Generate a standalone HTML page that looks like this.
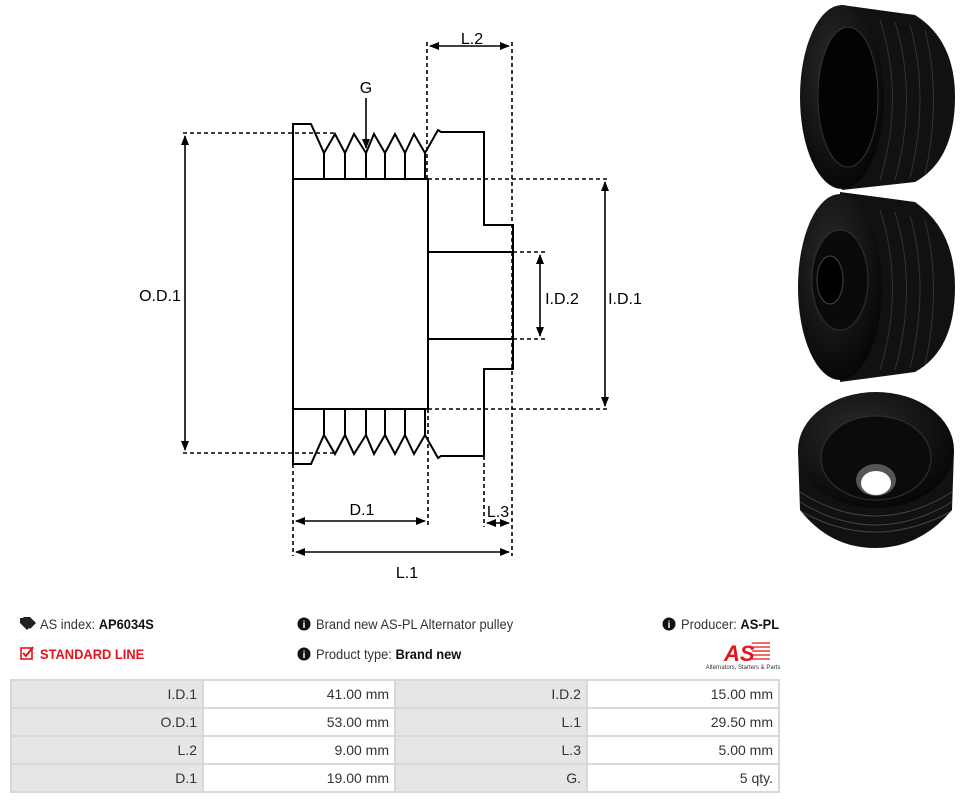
<!DOCTYPE html>
<html><head><meta charset="utf-8"><style>
body{margin:0;width:962px;height:802px;background:#fff;overflow:hidden;font-family:"Liberation Sans",sans-serif;}
svg{position:absolute;left:0;top:0}
.t{position:absolute;font-size:14px;color:#333;white-space:nowrap;transform:scaleX(0.92);transform-origin:left}
table{position:absolute;left:10px;top:679px;border-collapse:collapse;width:770px}
td{height:26px;border:2px solid #d8d8d8;font-size:14px;color:#333;text-align:right;padding:0 5px;width:181px}
td.g{background:#e6e6e6}
</style></head><body>
<svg width="962" height="802" font-family="Liberation Sans, sans-serif" font-size="17" fill="#000">
<defs>
<marker id="a" markerWidth="10" markerHeight="10" refX="9" refY="5" orient="auto-start-reverse" markerUnits="userSpaceOnUse"><path d="M0,1 L10,5 L0,9 z" fill="#000"/></marker>
<radialGradient id="bk" cx="0.4" cy="0.35" r="0.7"><stop offset="0" stop-color="#2a2a2a"/><stop offset="1" stop-color="#050505"/></radialGradient>
</defs>
<g stroke="#000" stroke-width="2" fill="none">
<path d="M293,464 L293,124 L311,124 L324,153 L335,134 L345,153 L354,134 L366,153 L374,134 L385,153 L395,134 L405,153 L414,134 L425,153 L438,130 L441,132 L484,132 L484,225 L513,225 L513,369 L484,369 L484,456 L441,456 L438,458 L425,435 L414,454 L405,435 L395,454 L385,435 L374,454 L366,435 L354,454 L345,435 L335,454 L324,435 L311,464 Z"/>
<rect x="293" y="179" width="135" height="230"/>
<path d="M324,153V179M345,153V179M366,153V179M385,153V179M405,153V179M425,153V179"/>
<path d="M324,435V409M345,435V409M366,435V409M385,435V409M405,435V409M425,435V409"/>
<path d="M428,252H513M428,339H513M428,179V409"/>
</g>
<g stroke="#000" stroke-width="1.6" fill="none" stroke-dasharray="4,3">
<path d="M183,133H335M183,453H335"/>
<path d="M428,179H608M428,409H608"/>
<path d="M513,252H545M513,339H545"/>
<path d="M427,42V179M512,42V556"/>
<path d="M293,464V556M428,409V525M484,456V527"/>
</g>
<g stroke="#000" stroke-width="1.6" fill="none">
<path d="M185,136V450" marker-start="url(#a)" marker-end="url(#a)"/>
<path d="M605,182V406" marker-start="url(#a)" marker-end="url(#a)"/>
<path d="M540,255V336" marker-start="url(#a)" marker-end="url(#a)"/>
<path d="M430,46H509" marker-start="url(#a)" marker-end="url(#a)"/>
<path d="M296,521H425" marker-start="url(#a)" marker-end="url(#a)"/>
<path d="M487,523H509" marker-start="url(#a)" marker-end="url(#a)"/>
<path d="M296,552H509" marker-start="url(#a)" marker-end="url(#a)"/>
<path d="M366,78V148" marker-end="url(#a)" style="display:none"/>
<path d="M366,98V148" marker-end="url(#a)"/>
</g>
<g text-anchor="middle" font-size="16">
<text x="160" y="301">O.D.1</text>
<text x="625" y="304">I.D.1</text>
<text x="562" y="304">I.D.2</text>
<text x="472" y="44">L.2</text>
<text x="362" y="515">D.1</text>
<text x="498" y="517">L.3</text>
<text x="407" y="578">L.1</text>
<text x="366" y="93">G</text>
</g>
<g>
<path d="M842,5 L915,15 Q955,40 955,97 Q955,160 915,182 L842,190 Z" fill="#111"/>
<ellipse cx="842" cy="97" rx="42" ry="92" fill="url(#bk)"/>
<ellipse cx="848" cy="97" rx="30" ry="70" fill="#030303" stroke="#333"/>
<path d="M880,20 Q905,97 880,180 M895,22 Q918,97 895,180 M910,25 Q930,97 910,178 M925,30 Q942,97 925,175" stroke="#333" fill="none"/>
<path d="M840,192 L915,202 Q955,230 955,287 Q955,350 915,372 L840,382 Z" fill="#111"/>
<ellipse cx="840" cy="287" rx="42" ry="93" fill="url(#bk)"/>
<ellipse cx="840" cy="280" rx="28" ry="50" fill="#0a0a0a" stroke="#333"/>
<ellipse cx="830" cy="280" rx="13" ry="24" fill="#000" stroke="#444"/>
<path d="M880,210 Q905,287 880,370 M895,212 Q918,287 895,370 M910,215 Q930,287 910,368 M925,220 Q942,287 925,365" stroke="#333" fill="none"/>
<path d="M798,450 L800,510 Q830,548 875,548 Q920,548 952,510 L954,450 Z" fill="#111"/>
<path d="M800,492 Q875,540 952,492 M800,502 Q875,548 952,502 M802,512 Q875,552 950,512" stroke="#444" fill="none"/>
<ellipse cx="876" cy="450" rx="78" ry="58" fill="url(#bk)"/>
<ellipse cx="876" cy="458" rx="55" ry="42" fill="#0b0b0b" stroke="#333"/>
<ellipse cx="876" cy="480" rx="20" ry="16" fill="#555"/>
<ellipse cx="876" cy="483" rx="15" ry="12" fill="#fff"/>
</g>
<path d="M20,618 L27,618 L33,624 L27,630 L20,623 Z M23,617 L30,617 L36,623 L30,629" fill="#222"/>
<rect x="21" y="648" width="11" height="11" fill="none" stroke="#e4141b" stroke-width="1.6"/>
<path d="M23,653 L26,656 L33,647" stroke="#e4141b" stroke-width="2" fill="none"/>
<g fill="#111"><circle cx="304" cy="624" r="6.5"/><circle cx="304" cy="654" r="6.5"/><circle cx="669" cy="624" r="6.5"/></g>
<g fill="#fff" font-size="10" font-weight="bold" text-anchor="middle"><text x="304" y="628">i</text><text x="304" y="658">i</text><text x="669" y="628">i</text></g>
<text x="724" y="661" font-size="22" font-weight="bold" font-style="italic" fill="#e4141b">AS</text>
<g stroke="#e4141b" stroke-width="1.3"><path d="M752,643H770M752,647H770M752,651H770M752,655H770M752,659H770"/></g>
<text x="743" y="669" font-size="6" fill="#333" text-anchor="middle">Alternators, Starters &amp; Parts</text>
</svg>
<div class="t" style="left:40px;top:616px">AS index: <b style="color:#111">AP6034S</b></div>
<div class="t" style="left:40px;top:646px;color:#e4141b;font-weight:bold">STANDARD LINE</div>
<div class="t" style="left:316px;top:616px">Brand new AS-PL Alternator pulley</div>
<div class="t" style="left:316px;top:646px">Product type: <b style="color:#111">Brand new</b></div>
<div class="t" style="left:681px;top:616px">Producer: <b style="color:#111">AS-PL</b></div>
<table>
<tr><td class="g">I.D.1</td><td>41.00 mm</td><td class="g">I.D.2</td><td>15.00 mm</td></tr>
<tr><td class="g">O.D.1</td><td>53.00 mm</td><td class="g">L.1</td><td>29.50 mm</td></tr>
<tr><td class="g">L.2</td><td>9.00 mm</td><td class="g">L.3</td><td>5.00 mm</td></tr>
<tr><td class="g">D.1</td><td>19.00 mm</td><td class="g">G.</td><td>5 qty.</td></tr>
</table>
</body></html>
